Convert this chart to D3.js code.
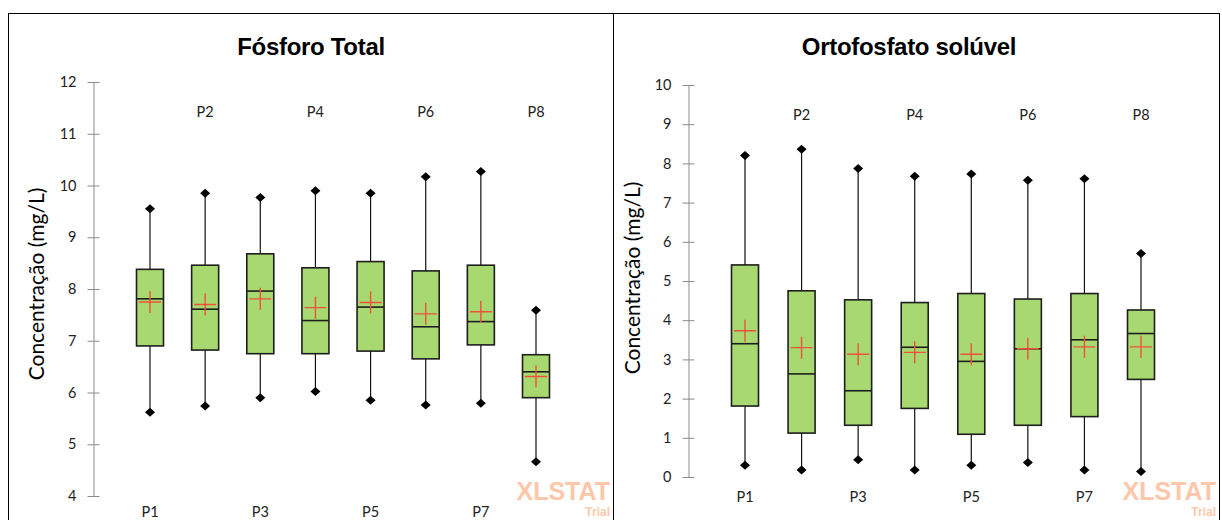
<!DOCTYPE html>
<meta charset="utf-8">
<style>
  body { margin: 0; background: #fff; }
  svg { display: block; }
  .tick text { font-family: Lato, "Open Sans", sans-serif; font-size: 14.5px; fill: #222; }
  .axis path, .axis line { stroke: #8c8c8c; }
  .cat { font-family: Lato, "Open Sans", sans-serif; font-size: 14.5px; fill: #222; }
  .title { font-family: "Liberation Sans", Arial, sans-serif; font-weight: bold; font-size: 24px; fill: #000; }
  .ylab { font-family: Lato, "Open Sans", sans-serif; font-size: 21px; fill: #000; }
  .wm { font-family: "Liberation Sans", Arial, sans-serif; font-weight: bold; fill: #fcc7aa; }
</style>
<body>
<script src="https://cdn.jsdelivr.net/npm/d3@7"></script>
<script>
var W = 1222, H = 520;

var cats = ["P1", "P2", "P3", "P4", "P5", "P6", "P7", "P8"];

// Fósforo Total
var ptMin    = [5.62, 5.74, 5.90, 6.02, 5.85, 5.76, 5.79, 4.66];
var ptQ1     = [6.90, 6.82, 6.75, 6.75, 6.80, 6.65, 6.92, 5.90];
var ptMedian = [7.81, 7.61, 7.96, 7.39, 7.65, 7.27, 7.37, 6.40];
var ptMean   = [7.75, 7.70, 7.81, 7.64, 7.74, 7.52, 7.56, 6.31];
var ptQ3     = [8.38, 8.46, 8.68, 8.41, 8.53, 8.35, 8.46, 6.73];
var ptMax    = [9.55, 9.85, 9.77, 9.90, 9.85, 10.17, 10.27, 7.59];
var ptTicks  = [4, 5, 6, 7, 8, 9, 10, 11, 12];

// Ortofosfato solúvel
var ofMin    = [0.30, 0.18, 0.44, 0.18, 0.30, 0.37, 0.18, 0.14];
var ofQ1     = [1.81, 1.12, 1.32, 1.75, 1.09, 1.32, 1.54, 2.49];
var ofMedian = [3.40, 2.63, 2.20, 3.31, 2.95, 3.27, 3.50, 3.66];
var ofMean   = [3.73, 3.30, 3.13, 3.18, 3.13, 3.27, 3.32, 3.32];
var ofQ3     = [5.41, 4.75, 4.52, 4.45, 4.68, 4.54, 4.68, 4.26];
var ofMax    = [8.20, 8.36, 7.87, 7.67, 7.73, 7.57, 7.61, 5.70];
var ofTicks  = [0, 1, 2, 3, 4, 5, 6, 7, 8, 9, 10];

var svg = d3.select("body").append("svg")
  .attr("width", W).attr("height", H);

function rows(mn, q1, md, mean, q3, mx) {
  return cats.map(function(c, i) {
    return {cat: c, min: mn[i], q1: q1[i], median: md[i], mean: mean[i], q3: q3[i], max: mx[i]};
  });
}

// a diamond a bit wider than tall, like the excel marker
function diamondPath(cx, cy) {
  return "M" + cx + "," + (cy - 4.5) + "L" + (cx + 5) + "," + cy + "L" + cx + "," + (cy + 4.5) + "L" + (cx - 5) + "," + cy + "Z";
}

function panel(opt) {
  var g = svg.append("g");

  // frame
  g.append("rect")
    .attr("x", opt.left + 0.5).attr("y", 13.5)
    .attr("width", opt.width).attr("height", H + 20)
    .attr("fill", "none").attr("stroke", "#000");

  g.append("text").attr("class", "title")
    .attr("x", opt.titleX).attr("y", 55)
    .attr("text-anchor", "middle")
    .attr("letter-spacing", -0.3)
    .text(opt.title);

  var y = d3.scaleLinear().domain(opt.domain).range(opt.yrange);
  var x = d3.scalePoint().domain(cats).range(opt.xrange);

  var yaxis = d3.axisLeft(y).tickValues(opt.ticks).tickSizeInner(6).tickSizeOuter(0);
  var ax = g.append("g").attr("class", "axis")
    .attr("transform", "translate(" + opt.axisX + ",0)")
    .call(yaxis);
  // ticks cross the axis line
  ax.selectAll(".tick line").attr("x1", -6).attr("x2", 6);
  ax.selectAll(".tick text").attr("x", -17);

  g.append("text").attr("class", "ylab")
    .attr("transform", "translate(" + opt.ylabX + "," + opt.ylabY + ") rotate(-90)")
    .attr("text-anchor", "middle")
    .text("Concentração (mg/L)");

  var bw = 27;
  var data = rows.apply(null, opt.data);
  var box = g.selectAll("g.box").data(data).enter().append("g").attr("class", "box");

  // whiskers
  box.append("line")
    .attr("x1", function(d) { return x(d.cat); }).attr("x2", function(d) { return x(d.cat); })
    .attr("y1", function(d) { return y(d.max); }).attr("y2", function(d) { return y(d.q3); })
    .attr("stroke", "#111").attr("stroke-width", 1.2);
  box.append("line")
    .attr("x1", function(d) { return x(d.cat); }).attr("x2", function(d) { return x(d.cat); })
    .attr("y1", function(d) { return y(d.q1); }).attr("y2", function(d) { return y(d.min); })
    .attr("stroke", "#111").attr("stroke-width", 1.2);

  box.append("rect")
    .attr("x", function(d) { return x(d.cat) - bw / 2; })
    .attr("y", function(d) { return y(d.q3); })
    .attr("width", bw)
    .attr("height", function(d) { return y(d.q1) - y(d.q3); })
    .attr("fill", "#a7d970").attr("stroke", "#1e1e1e").attr("stroke-width", 1.6);

  box.append("line")
    .attr("x1", function(d) { return x(d.cat) - bw / 2; }).attr("x2", function(d) { return x(d.cat) + bw / 2; })
    .attr("y1", function(d) { return y(d.median); }).attr("y2", function(d) { return y(d.median); })
    .attr("stroke", "#1e1e1e").attr("stroke-width", 1.6);

  // mean cross
  box.append("path")
    .attr("d", function(d) {
      var cx = x(d.cat), cy = y(d.mean);
      return "M" + (cx - 11) + "," + cy + "H" + (cx + 11) + "M" + cx + "," + (cy - 11) + "V" + (cy + 11);
    })
    .attr("stroke", "#f2503a").attr("stroke-width", 1.4).attr("fill", "none");

  // min / max diamonds
  ["min", "max"].forEach(function(k) {
    box.append("path")
      .attr("d", function(d) { return diamondPath(x(d.cat), y(d[k])); })
      .attr("fill", "#000");
  });

  // category labels, alternating top/bottom
  g.selectAll("text.cat").data(cats).enter().append("text").attr("class", "cat")
    .attr("x", function(d) { return x(d); })
    .attr("y", function(d, i) { return i % 2 === 0 ? opt.botY : opt.topY; })
    .attr("text-anchor", "middle")
    .text(function(d) { return d; });

  // watermark
  var right = opt.left + opt.width - 3;
  g.append("text").attr("class", "wm")
    .attr("x", right).attr("y", 500)
    .attr("text-anchor", "end").attr("font-size", 25)
    .text("XLSTAT");
  g.append("text").attr("class", "wm")
    .attr("x", right).attr("y", 516)
    .attr("text-anchor", "end").attr("font-size", 12)
    .text("Trial");
}

panel({
  left: 8, width: 605, title: "Fósforo Total", titleX: 311,
  domain: [4, 12], yrange: [496, 82], ticks: ptTicks, axisX: 93.5,
  xrange: [150, 536], ylabX: 44, ylabY: 284, topY: 117, botY: 517,
  data: [ptMin, ptQ1, ptMedian, ptMean, ptQ3, ptMax]
});

panel({
  left: 613, width: 606, title: "Ortofosfato solúvel", titleX: 909,
  domain: [0, 10], yrange: [477, 85], ticks: ofTicks, axisX: 688.5,
  xrange: [745, 1141], ylabX: 640, ylabY: 278, topY: 120, botY: 502,
  data: [ofMin, ofQ1, ofMedian, ofMean, ofQ3, ofMax]
});
</script>
</body>
